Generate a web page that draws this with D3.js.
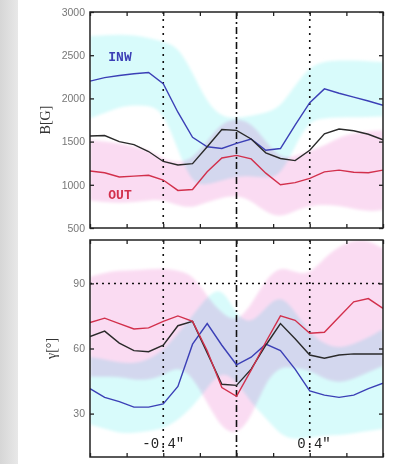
<!DOCTYPE html>
<html>
<head>
<meta charset="utf-8">
<script src="https://cdn.jsdelivr.net/npm/d3@7"></script>
<style>
  body { margin: 0; background: #fff; }
  svg { display: block; }
</style>
</head>
<body>
<div id="chart"></div>
<script>
// ====================== data (positions in arcsec)
var xPos = [-0.8, -0.72, -0.64, -0.56, -0.48, -0.4, -0.32, -0.24, -0.16, -0.08, 0,
            0.08, 0.16, 0.24, 0.32, 0.4, 0.48, 0.56, 0.64, 0.72, 0.8];

// field strength B [G]
var bInw    = [2200, 2240, 2265, 2285, 2300, 2170, 1840, 1550, 1440, 1420, 1480,
               1530, 1400, 1420, 1690, 1950, 2110, 2060, 2015, 1970, 1920];
var bInwHi  = [2720, 2730, 2740, 2730, 2700, 2660, 2600, 2300, 1950, 1780, 1770,
               1800, 1830, 1900, 2150, 2370, 2430, 2440, 2440, 2430, 2420];
var bInwLo  = [1770, 1830, 1900, 1920, 1920, 1850, 1400, 1000, 1000, 1050, 1100,
               1100, 1080, 1100, 1450, 1750, 1770, 1780, 1780, 1785, 1790];
var bAll    = [1565, 1570, 1500, 1465, 1385, 1270, 1230, 1245, 1440, 1640, 1630,
               1530, 1370, 1305, 1280, 1400, 1590, 1645, 1625, 1585, 1520];
var bOut    = [1160, 1140, 1090, 1100, 1110, 1055, 935, 945, 1150, 1310, 1340,
               1300, 1135, 1000, 1025, 1075, 1150, 1170, 1145, 1140, 1170];
var bOutHi  = [1520, 1500, 1480, 1440, 1400, 1300, 1250, 1300, 1500, 1720, 1770,
               1720, 1500, 1300, 1330, 1390, 1450, 1550, 1600, 1620, 1630];
var bOutLo  = [820, 800, 790, 800, 820, 830, 760, 730, 800, 850, 880,
               820, 680, 620, 700, 760, 770, 760, 720, 690, 710];

// inclination gamma [deg]
var gInw    = [41.5, 37.5, 35.5, 33, 33, 34.5, 42.5, 62, 71.5, 61.5, 52.5,
               56, 62, 59, 50.5, 40.5, 38.5, 37.5, 38.5, 41.5, 44];
var gInwHi  = [56, 55, 53.5, 53, 55, 59, 67, 75, 84, 89, 75,
               71, 79, 85, 77, 67, 62, 60, 62, 65, 69];
var gInwLo  = [25, 23, 21, 21, 22, 23, 27, 33, 42, 50, 45,
               35, 28, 20, 18, 19, 20, 20, 21, 22, 23];
var gAll    = [65.5, 68, 62.5, 59, 58.5, 61.5, 70.5, 72.5, 58, 43.5, 43,
               50.5, 61.5, 71.5, 64.5, 57, 55.5, 57, 57.5, 57.5, 57.5];
var gOut    = [72, 74, 71.5, 69, 69.5, 72.5, 75, 72.5, 59, 42, 38,
               50, 63, 75, 73, 67, 67.5, 74.5, 81.5, 83, 78.5];
var gOutHi  = [93, 95, 96, 96, 96.5, 97, 96, 94, 84, 76, 72,
               80, 92, 98, 95, 94, 102, 107, 110, 110, 106];
var gOutLo  = [47, 47, 47, 45.5, 45.5, 47.5, 52, 47, 35, 23, 20,
               28, 45, 52, 51, 50, 46, 44, 46, 49, 52];

var xTicks = [-0.8, -0.6, -0.4, -0.2, 0, 0.2, 0.4, 0.6, 0.8];
var bTicks = [500, 1000, 1500, 2000, 2500, 3000];
var gTicks = [30, 60, 90];

// ====================== layout
var svgWidth = 405;
var svgHeight = 464;
var plotLeft = 90, plotRight = 383;
var topPanel = { top: 12, bottom: 228 };
var botPanel = { top: 240, bottom: 457 };

var svg = d3.select("#chart")
  .append("svg")
  .attr("width", svgWidth)
  .attr("height", svgHeight);

var defs = svg.append("defs");

// grey strip on the left (slide background)
var grad = defs.append("linearGradient")
  .attr("id", "side").attr("x1", 0).attr("x2", 1);
grad.append("stop").attr("offset", 0).attr("stop-color", "#d6d6d6");
grad.append("stop").attr("offset", 1).attr("stop-color", "#e8e8e8");
svg.append("rect")
  .attr("x", 0).attr("y", 0)
  .attr("width", 18).attr("height", svgHeight)
  .attr("fill", "url(#side)");

// soft edges for the shaded bands
defs.append("filter").attr("id", "soft")
  .attr("x", "-5%").attr("y", "-5%").attr("width", "110%").attr("height", "110%")
  .append("feGaussianBlur").attr("stdDeviation", 1.8);

var xScale = d3.scaleLinear()
  .domain([-0.8, 0.8])
  .range([plotLeft, plotRight]);

function drawPanel(p, yDomain, yTicks, s) {
  var yScale = d3.scaleLinear().domain(yDomain).range([p.bottom, p.top]);
  var g = svg.append("g");

  var band = d3.area()
    .x((d, i) => xScale(xPos[i]))
    .y0(d => yScale(d[0]))
    .y1(d => yScale(d[1]))
    .curve(d3.curveBasis);

  var clipId = "clip" + p.top;
  defs.append("clipPath").attr("id", clipId)
    .append("rect")
    .attr("x", plotLeft).attr("y", p.top)
    .attr("width", plotRight - plotLeft).attr("height", p.bottom - p.top);

  var bands = g.append("g").attr("clip-path", `url(#${clipId})`);
  bands.append("path")
    .datum(s.inwLo.map((v, i) => [v, s.inwHi[i]]))
    .attr("d", band)
    .attr("fill", "#d8fbfb")
    .attr("filter", "url(#soft)")
    .style("mix-blend-mode", "multiply");
  bands.append("path")
    .datum(s.outLo.map((v, i) => [v, s.outHi[i]]))
    .attr("d", band)
    .attr("fill", "#fadbf2")
    .attr("filter", "url(#soft)")
    .style("mix-blend-mode", "multiply");

  // reference lines
  [-0.4, 0.4].forEach(function (v) {
    g.append("line")
      .attr("x1", xScale(v)).attr("x2", xScale(v))
      .attr("y1", p.top).attr("y2", p.bottom)
      .attr("stroke", "#111").attr("stroke-width", 1.6)
      .attr("stroke-dasharray", "2,5");
  });
  g.append("line")
    .attr("x1", xScale(0)).attr("x2", xScale(0))
    .attr("y1", p.top).attr("y2", p.bottom)
    .attr("stroke", "#111").attr("stroke-width", 1.6)
    .attr("stroke-dasharray", "7,3,2,3");

  if (s.hline != null) {
    g.append("line")
      .attr("x1", plotLeft).attr("x2", plotRight)
      .attr("y1", yScale(s.hline)).attr("y2", yScale(s.hline))
      .attr("stroke", "#111").attr("stroke-width", 1.5)
      .attr("stroke-dasharray", "2,4");
  }

  var line = d3.line()
    .x((d, i) => xScale(xPos[i]))
    .y(d => yScale(d));

  var lines = g.append("g").attr("clip-path", `url(#${clipId})`);
  [[s.inw, "#3b3fb6"], [s.all, "#2a2a2a"], [s.out, "#d2304c"]].forEach(function (l) {
    lines.append("path")
      .datum(l[0])
      .attr("d", line)
      .attr("fill", "none")
      .attr("stroke", l[1])
      .attr("stroke-width", 1.4);
  });

  // axes, ticks pointing inward
  g.append("g")
    .attr("transform", `translate(${plotLeft},0)`)
    .call(d3.axisLeft(yScale).tickValues(yTicks).tickSize(-4).tickPadding(5)
      .tickFormat(d3.format("d")))
    .call(a => a.select(".domain").remove())
    .selectAll("text")
    .attr("fill", "#777")
    .style("font-family", "Liberation Sans, Arial, sans-serif")
    .style("font-size", "10.5px");
  g.append("g")
    .attr("transform", `translate(${plotRight},0)`)
    .call(d3.axisRight(yScale).tickValues(yTicks).tickSize(-4).tickFormat(""))
    .call(a => a.select(".domain").remove());
  g.append("g")
    .attr("transform", `translate(0,${p.top})`)
    .call(d3.axisTop(xScale).tickValues(xTicks).tickSize(-4).tickFormat(""))
    .call(a => a.select(".domain").remove());
  g.append("g")
    .attr("transform", `translate(0,${p.bottom})`)
    .call(d3.axisBottom(xScale).tickValues(xTicks).tickSize(-4).tickFormat(""))
    .call(a => a.select(".domain").remove());
  g.selectAll(".tick line").attr("stroke", "#222").attr("stroke-width", 1.3);

  g.append("rect")
    .attr("x", plotLeft).attr("y", p.top)
    .attr("width", plotRight - plotLeft).attr("height", p.bottom - p.top)
    .attr("fill", "none")
    .attr("stroke", "#222")
    .attr("stroke-width", 1.5);

  return yScale;
}

var yB = drawPanel(topPanel, [500, 3000], bTicks,
  { inw: bInw, inwHi: bInwHi, inwLo: bInwLo, all: bAll,
    out: bOut, outHi: bOutHi, outLo: bOutLo, hline: null });

var yG = drawPanel(botPanel, [10, 110], gTicks,
  { inw: gInw, inwHi: gInwHi, inwLo: gInwLo, all: gAll,
    out: gOut, outHi: gOutHi, outLo: gOutLo, hline: 90 });

// axis titles
svg.append("text")
  .attr("transform", `translate(50,${(topPanel.top + topPanel.bottom) / 2}) rotate(-90)`)
  .style("text-anchor", "middle")
  .style("font-family", "Liberation Serif, Times New Roman, serif")
  .style("font-size", "14px")
  .attr("fill", "#333")
  .text("B[G]");

svg.append("text")
  .attr("transform", `translate(56,${(botPanel.top + botPanel.bottom) / 2}) rotate(-90)`)
  .style("text-anchor", "middle")
  .style("font-family", "Liberation Serif, Times New Roman, serif")
  .style("font-size", "14px")
  .attr("fill", "#333")
  .text("γ[°]");

// series labels
var mono = "Liberation Mono, Courier New, monospace";
svg.append("text")
  .attr("x", xScale(-0.7)).attr("y", yB(2430))
  .style("font-family", mono).style("font-size", "13px").style("font-weight", "bold")
  .attr("fill", "#3b3fb6")
  .text("INW");
svg.append("text")
  .attr("x", xScale(-0.7)).attr("y", yB(830))
  .style("font-family", mono).style("font-size", "13px").style("font-weight", "bold")
  .attr("fill", "#d2304c")
  .text("OUT");

// offset labels, decimal point sits on the dashed line
var cw = 14 * 0.6;
svg.append("text")
  .attr("x", xScale(-0.4) - 2.5 * cw).attr("y", yG(14))
  .style("font-family", mono).style("font-size", "14px")
  .attr("fill", "#222")
  .text("-0.4\"");
svg.append("text")
  .attr("x", xScale(0.4) - 1.5 * cw).attr("y", yG(14))
  .style("font-family", mono).style("font-size", "14px")
  .attr("fill", "#222")
  .text("0.4\"");
</script>
</body>
</html>
